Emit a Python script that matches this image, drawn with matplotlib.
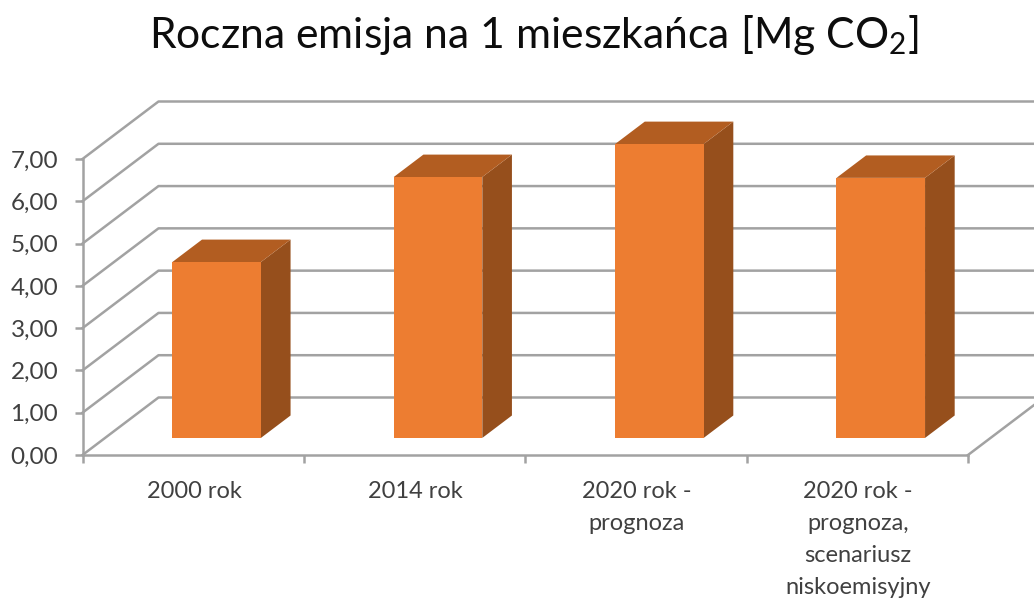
import numpy as np
import matplotlib
matplotlib.use('Agg')
import matplotlib.pyplot as plt

# Values
categories = ['2000 rok', '2014 rok', '2020 rok -\nprognoza',
              '2020 rok -\nprognoza,\nscenariusz\nniskoemisyjny']
values = [4.16, 6.17, 6.95, 6.15]
y_ticks = [0, 1, 2, 3, 4, 5, 6, 7]
y_labels = ['0,00', '1,00', '2,00', '3,00', '4,00', '5,00', '6,00', '7,00']

W, H = 1034, 601
plt.rcParams['font.family'] = ['Lato', 'DejaVu Sans']
plt.rcParams['mathtext.default'] = 'regular'
plt.rcParams['mathtext.fontset'] = 'custom'
plt.rcParams['mathtext.rm'] = 'Lato'

GRID = '#a2a2a2'
TEXT = '#404040'

fig = plt.figure(figsize=(W / 100, H / 100), dpi=100)
left, right, bottom, top = 82.5, 968, 455, 159
ax = fig.add_axes([left / W, 1 - bottom / H, (right - left) / W, (bottom - top) / H])
ax.set_xlim(0, 4)
ax.set_ylim(0, 7)
ax.patch.set_visible(False)

# depth of the fake 3d box, in data units
depth_x = 76 / ((right - left) / 4)
depth_y = 57.5 / ((bottom - top) / 7)


def skew(x, y, d):
    return x + d * depth_x, y + d * depth_y


# gridlines: from the front axis up the side wall and along the back wall
for v in y_ticks:
    bx, by = skew(0, v, 1)
    ex, ey = skew(4, v, 1)
    ax.plot([0, bx, ex], [v, by, ey], color=GRID, lw=1.8, clip_on=False, zorder=1)

# right edge of the floor
fx, fy = skew(4, 0, 1)
ax.plot([4, fx], [0, fy], color=GRID, lw=1.8, clip_on=False, zorder=1)

# bars
bar_w = 0.4
d0, d1 = 0.297, 0.687
for i, val in enumerate(values):
    x0 = i + 0.504 - bar_w / 2
    x1 = x0 + bar_w
    # side
    pts = [skew(x1, 0, d0), skew(x1, 0, d1), skew(x1, val, d1), skew(x1, val, d0)]
    ax.fill(*zip(*pts), color='#964f1c', lw=0, clip_on=False, zorder=3)
    # top
    pts = [skew(x0, val, d0), skew(x1, val, d0), skew(x1, val, d1), skew(x0, val, d1)]
    ax.fill(*zip(*pts), color='#b25d21', lw=0, clip_on=False, zorder=3)
    # front
    pts = [skew(x0, 0, d0), skew(x1, 0, d0), skew(x1, val, d0), skew(x0, val, d0)]
    ax.fill(*zip(*pts), color='#ed7d31', lw=0, clip_on=False, zorder=4)

for s in ['top', 'right']:
    ax.spines[s].set_visible(False)
for s in ['left', 'bottom']:
    ax.spines[s].set_color(GRID)
    ax.spines[s].set_linewidth(1.8)
    ax.spines[s].set_zorder(2)

ax.set_yticks(y_ticks)
ax.set_yticklabels(y_labels, fontsize=17.5, color=TEXT)
ax.set_xticks([0, 1, 2, 3, 4])
ax.set_xticklabels([])
ax.set_xticks([0.504, 1.504, 2.504, 3.504], minor=True)
ax.set_xticklabels(categories, minor=True, fontsize=17, color=TEXT, linespacing=1.63, va='top')
ax.tick_params(axis='y', length=5.5, width=1.8, color=GRID, pad=12)
ax.tick_params(axis='x', which='major', length=5.5, width=1.8, color=GRID)
ax.tick_params(axis='x', which='minor', length=0, pad=19)

fig.text(534 / W, 1 - 35 / H, 'Roczna emisja na 1 mieszkańca [Mg CO$_2$]',
         fontsize=30.7, color='#0d0d0d', ha='center', va='center')

fig.savefig('out.png', dpi=100)
